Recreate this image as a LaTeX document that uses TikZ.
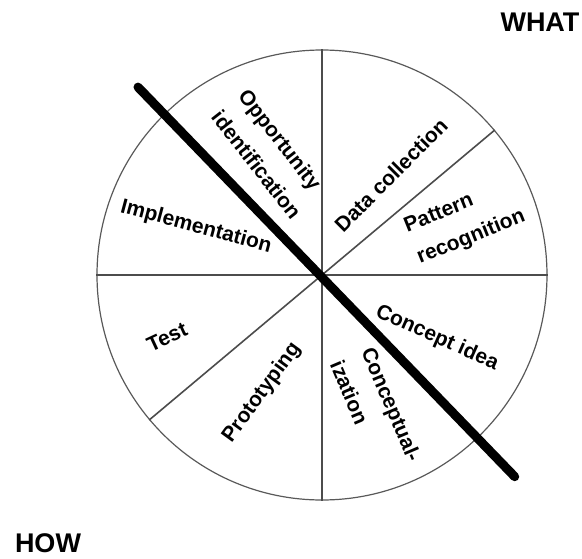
\documentclass[tikz,border=0pt]{standalone}
\usepackage{fontspec}
\setmainfont{Liberation Sans}

\begin{document}
\begin{tikzpicture}[x=1pt,y=1pt]
  \tikzset{phase/.style={font=\bfseries\fontsize{21}{34}\selectfont,align=left,inner sep=1pt},
           heading/.style={font=\bfseries\fontsize{27}{30}\selectfont,inner sep=1pt},
           divider/.style={draw=black!70,line width=1.6pt}}

  \useasboundingbox (-322,-283) rectangle (260,275);

  \node [draw=black!65,line width=1.2pt,circle,minimum size=450pt,inner sep=0pt] (wheel) at (0,0) {};
  \draw [divider] (wheel.north) -- (wheel.south);
  \draw [divider] (wheel.west) -- (wheel.east);
  \draw [divider] (wheel.40) -- (wheel.220);

  % the long stroke across the wheel
  \coordinate (upper end) at (134.4:263);
  \coordinate (lower end) at (-46.3:279);
  \draw [line width=9pt,line cap=round] (upper end) -- (lower end);

  \node [phase,rotate=-52] (opportunity) at (-52,121) {Opportunity\\identification};
  \node [phase,rotate=45] (data) at (69,100) {Data collection};
  \node [phase,rotate=22] (pattern) at (143,53) {Pattern\\recognition};
  \node [phase,rotate=-24] (concept) at (115,-63) {Concept idea};
  \node [phase,rotate=-67] (conceptualization) at (54,-136) {Conceptual-\\ization};
  \node [phase,rotate=54] (prototyping) at (-60,-118) {Prototyping};
  \node [phase,rotate=25] (test) at (-155,-62) {Test};
  \node [phase,rotate=-15] (implementation) at (-126,48) {Implementation};

  \node [heading] (what) at (218,253) {WHAT};
  \node [heading] (how) at (-274,-268) {HOW};
\end{tikzpicture}
\end{document}
